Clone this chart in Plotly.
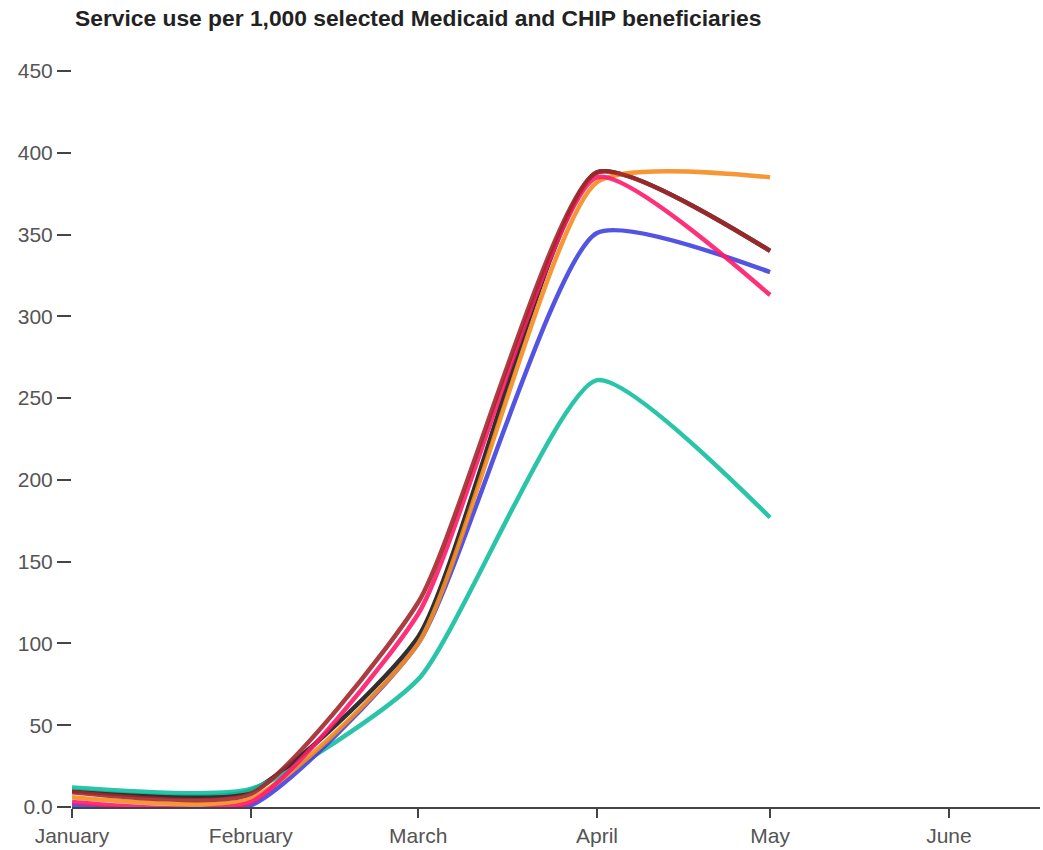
import plotly.graph_objects as go

months = ["2020-01-01", "2020-02-01", "2020-03-01", "2020-04-01", "2020-05-01"]
month_ticks = ["2020-01-01", "2020-02-01", "2020-03-01", "2020-04-01", "2020-05-01", "2020-06-01"]
month_labels = ["January", "February", "March", "April", "May", "June"]

teal = [12, 11, 78, 261, 177]
blue = [1, 1, 100, 351, 327]
pink = [3, 3, 118, 385, 313]
orange = [6, 5, 100, 382, 385]
black = [10, 10, 104, 388, 340]
brown = [9, 8, 125, 388, 340]

y_ticks = [0, 50, 100, 150, 200, 250, 300, 350, 400, 450]
y_labels = ["0.0", "50", "100", "150", "200", "250", "300", "350", "400", "450"]

series = [
    ("Black", black, "#1a1a1a"),
    ("Teal", teal, "#14bfa0"),
    ("Blue", blue, "#4242e0"),
    ("Orange", orange, "#f68b1f"),
    ("Pink", pink, "#ff1a6c"),
    ("Brown", brown, "#a3282b"),
]

W, H = 1043, 850

fig = go.Figure()
for name, vals, col in series:
    fig.add_trace(go.Scatter(
        x=months, y=vals, mode="lines", name=name,
        line=dict(color=col, width=4.5, shape="spline", smoothing=0.55),
        opacity=0.9, hoverinfo="x+y",
    ))

fig.update_layout(
    width=W, height=H,
    margin=dict(l=72, r=3, t=71, b=43),
    paper_bgcolor="white", plot_bgcolor="white",
    showlegend=False,
    font=dict(family="Liberation Sans, Arial, sans-serif", size=21, color="#555555"),
    title=dict(
        text="<b>Service use per 1,000 selected Medicaid and CHIP beneficiaries</b>",
        x=75 / W, xanchor="left", y=1 - 18 / H, yanchor="middle",
        font=dict(size=22.8, color="#222222", family="Liberation Sans, Arial, sans-serif"),
    ),
)
fig.update_xaxes(
    type="date", range=["2020-01-01", "2020-06-16T19:00"],
    tickmode="array", tickvals=month_ticks, ticktext=month_labels,
    ticks="outside", ticklen=9, tickwidth=2, tickcolor="#444444",
    showline=True, linecolor="#444444", linewidth=2,
    showgrid=False, zeroline=False, automargin=False,
    tickfont=dict(size=21, color="#555555"),
)
fig.update_yaxes(
    range=[0, 450], tickmode="array", tickvals=y_ticks, ticktext=y_labels,
    ticks="outside", ticklen=14, tickwidth=2, tickcolor="#444444",
    showline=False, showgrid=False, zeroline=False, automargin=False,
    tickfont=dict(size=21, color="#555555"),
)

fig.write_html(
    "out.html",
    config={"displayModeBar": False},
    post_script="document.body.style.margin='0';document.body.style.overflow='hidden';",
)
